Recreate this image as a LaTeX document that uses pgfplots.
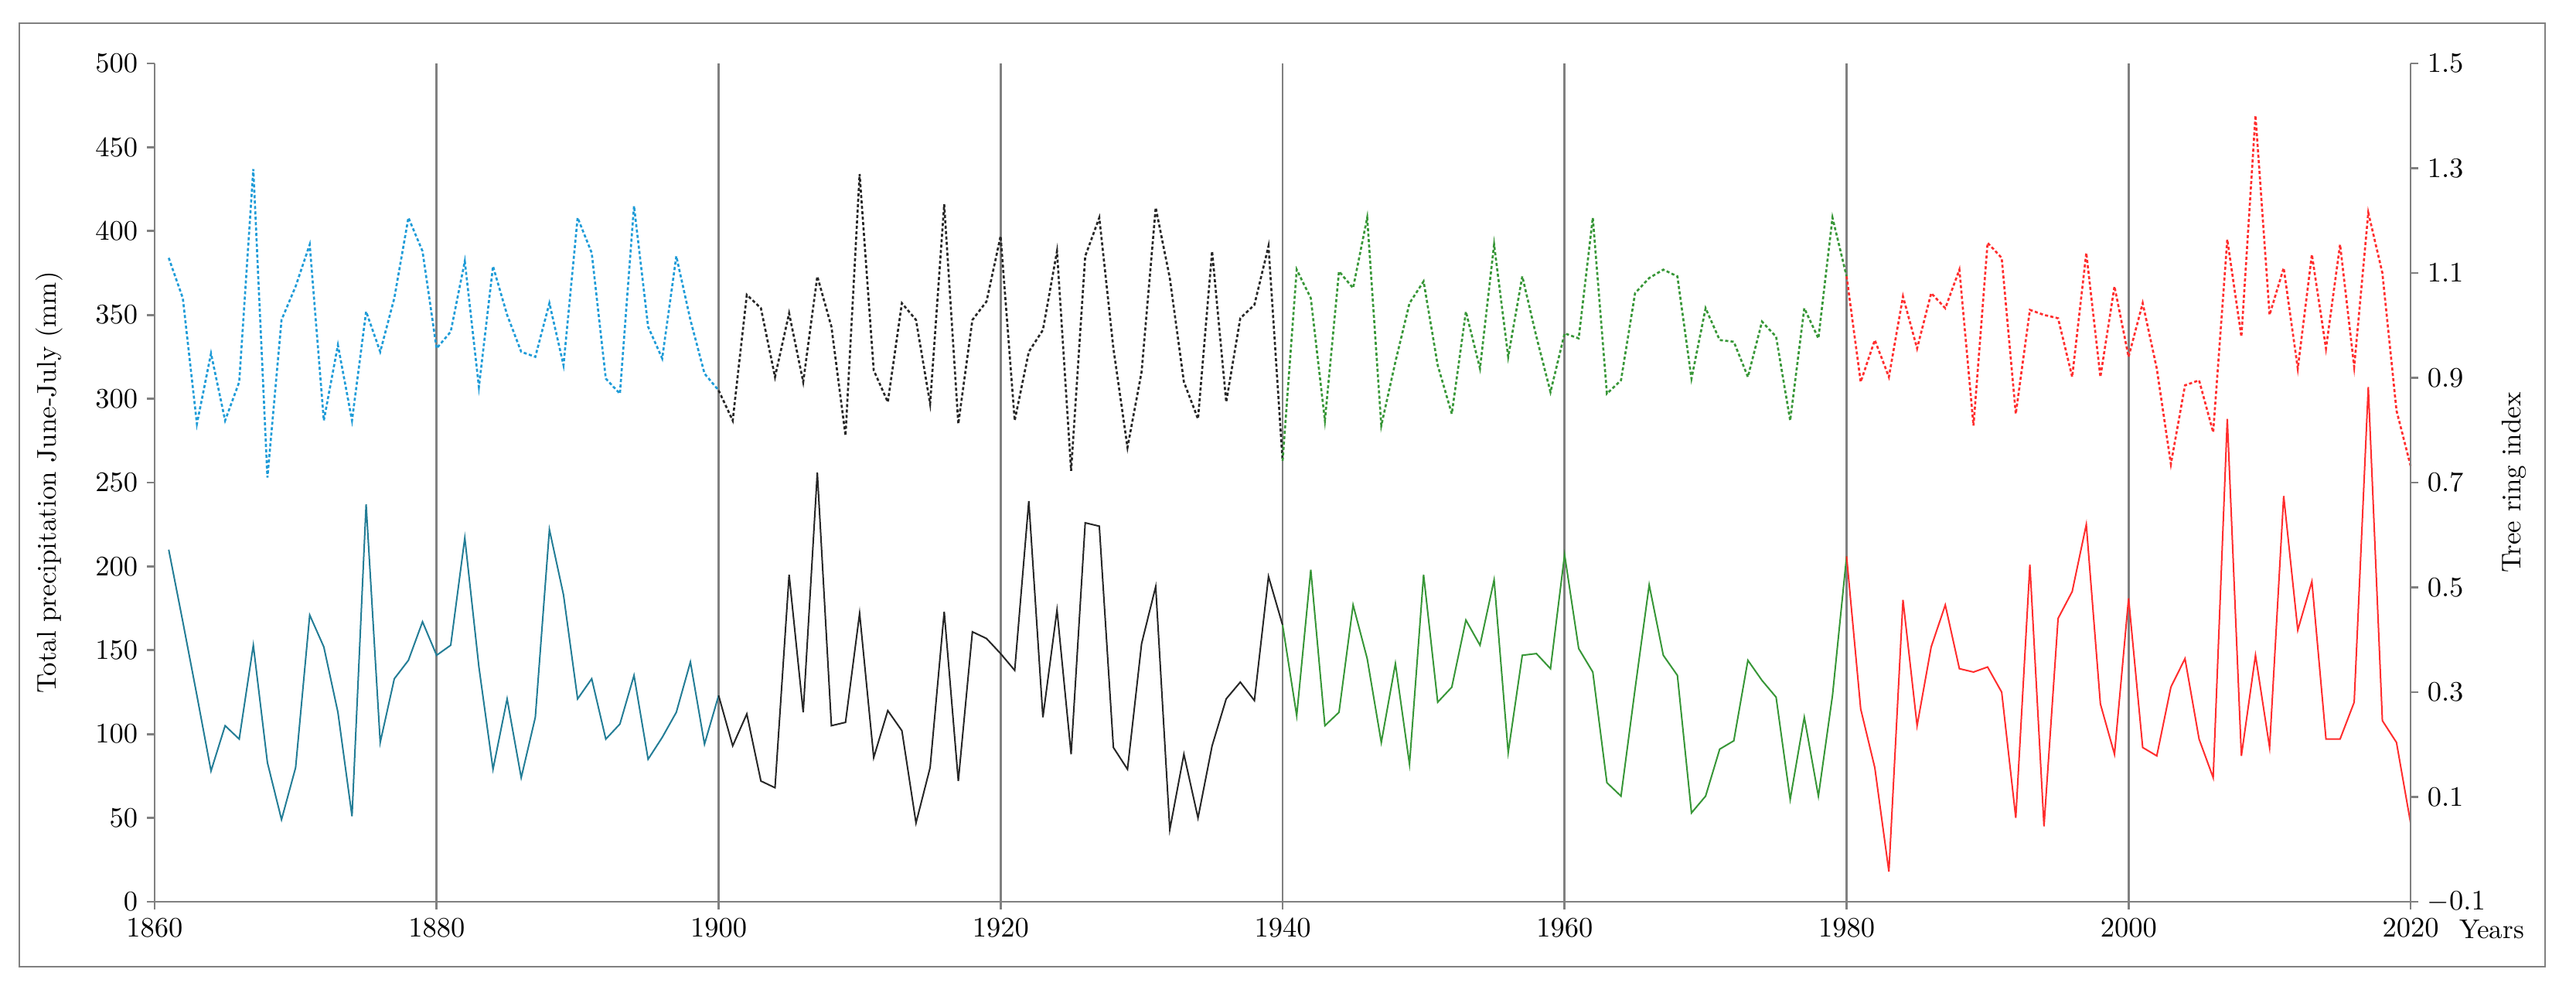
\documentclass[border=0pt]{standalone}
\usepackage{pgfplots}
\usepackage{pgfplotstable}
\pgfplotsset{compat=1.18}
\definecolor{cblue}{RGB}{30,155,215}
\definecolor{cteal}{RGB}{35,125,150}
\definecolor{cgreen}{RGB}{55,150,55}
\definecolor{cred}{RGB}{255,45,45}
\definecolor{axgray}{RGB}{128,128,128}
\pgfplotstableread{
year dot sol
1861 384 210
1862 360 167
1863 285 123
1864 327 78
1865 287 105
1866 310 97
1867 437 153
1868 253 83
1869 347 49
1870 367 80
1871 392 171
1872 287 152
1873 332 113
1874 287 51
1875 352 237
1876 328 95
1877 360 133
1878 408 144
1879 388 167
1880 330 147
1881 340 153
1882 382 217
1883 307 140
1884 379 79
1885 350 121
1886 328 74
1887 325 110
1888 357 222
1889 320 183
1890 408 121
1891 387 133
1892 312 97
1893 303 106
1894 415 135
1895 343 85
1896 324 98
1897 385 113
1898 347 143
1899 315 94
1900 305 123
1901 287 93
1902 362 112
1903 354 72
1904 313 68
1905 351 195
1906 310 113
1907 373 256
1908 343 105
1909 278 107
1910 434 172
1911 317 86
1912 298 114
1913 357 102
1914 347 47
1915 297 80
1916 416 173
1917 285 72
1918 347 161
1919 358 157
1920 397 148
1921 287 138
1922 328 239
1923 341 110
1924 388 174
1925 257 88
1926 385 226
1927 408 224
1928 330 92
1929 271 79
1930 316 154
1931 414 188
1932 372 43
1933 310 88
1934 288 50
1935 388 93
1936 298 121
1937 348 131
1938 356 120
1939 391 194
1940 263 165
1941 377 111
1942 360 198
1943 287 105
1944 376 113
1945 366 177
1946 408 145
1947 284 95
1948 322 142
1949 357 82
1950 370 195
1951 320 119
1952 291 128
1953 352 168
1954 318 153
1955 392 192
1956 325 89
1957 373 147
1958 337 148
1959 304 139
1960 339 207
1961 336 151
1962 408 137
1963 303 71
1964 311 63
1965 363 127
1966 372 189
1967 377 147
1968 373 135
1969 312 53
1970 354 63
1971 335 91
1972 334 96
1973 313 144
1974 346 132
1975 337 122
1976 287 61
1977 354 110
1978 336 63
1979 408 123
1980 373 206
1981 310 115
1982 335 80
1983 313 18
1984 361 180
1985 330 105
1986 363 152
1987 354 177
1988 377 139
1989 284 137
1990 393 140
1991 384 125
1992 291 50
1993 353 201
1994 350 45
1995 348 169
1996 313 185
1997 387 225
1998 313 118
1999 367 88
2000 325 181
2001 357 92
2002 318 87
2003 261 128
2004 308 145
2005 311 97
2006 280 74
2007 395 288
2008 337 87
2009 469 147
2010 350 92
2011 378 242
2012 318 162
2013 386 191
2014 330 97
2015 392 97
2016 319 119
2017 411 307
2018 375 108
2019 293 95
2020 260 47
}\data
\begin{document}
\begin{tikzpicture}
\pgfplotsset{
  every axis/.append style={
    scale only axis, width=875.4pt, height=325.2pt,
    xmin=1860, xmax=2020,
    tick label style={font=\fontsize{10.5}{12}\selectfont, black},
    label style={font=\fontsize{10.5}{12}\selectfont},
    tick align=outside, major tick length=3pt,
    tick style={axgray, line width=0.8pt},
    axis line style={axgray, line width=0.8pt},
  }
}
\begin{axis}[
  name=ax,
  ymin=0, ymax=500,
  xtick={1860,1880,...,2020}, ytick={0,50,...,500},
  xticklabel style={/pgf/number format/1000 sep={}},
  axis x line*=bottom, axis y line*=left,
  xmajorgrids, major grid style={axgray, line width=0.8pt},
  ylabel={Total precipitation June-July (mm)},
  ylabel style={at={(axis description cs:-0.0468,0.5)}, anchor=center},
  clip=false,
]
\addplot[cblue, line width=0.8pt, dash pattern=on 1.2pt off 0.9pt, restrict x to domain=1860:1900] table[x=year,y=dot] {\data};
\addplot[black!85, line width=0.8pt, dash pattern=on 1.2pt off 0.9pt, restrict x to domain=1900:1940] table[x=year,y=dot] {\data};
\addplot[cgreen, line width=0.8pt, dash pattern=on 1.2pt off 0.9pt, restrict x to domain=1940:1980] table[x=year,y=dot] {\data};
\addplot[cred, line width=0.8pt, dash pattern=on 1.2pt off 0.9pt, restrict x to domain=1980:2020] table[x=year,y=dot] {\data};
\addplot[cteal, line width=0.6pt, restrict x to domain=1860:1900] table[x=year,y=sol] {\data};
\addplot[black!85, line width=0.6pt, restrict x to domain=1900:1940] table[x=year,y=sol] {\data};
\addplot[cgreen, line width=0.6pt, restrict x to domain=1940:1980] table[x=year,y=sol] {\data};
\addplot[cred, line width=0.6pt, restrict x to domain=1980:2020] table[x=year,y=sol] {\data};
\node[anchor=north, font=\fontsize{10.5}{12}\selectfont, inner sep=0pt] at ([xshift=31.5pt,yshift=-7pt]rel axis cs:1,0) {Years};
\draw[axgray, line width=0.8pt] ([xshift=-52.5pt,yshift=-25.2pt]rel axis cs:0,0) rectangle ([xshift=52.2pt,yshift=15.6pt]rel axis cs:1,1);
\path ([xshift=-60pt,yshift=-35.1pt]rel axis cs:0,0) rectangle ([xshift=64.2pt,yshift=24.6pt]rel axis cs:1,1);
\end{axis}
\begin{axis}[
  ymin=-0.1, ymax=1.5,
  ytick={-0.1,0.1,0.3,0.5,0.7,0.9,1.1,1.3,1.5},
  yticklabel style={/pgf/number format/.cd, fixed, fixed zerofill, precision=1},
  axis y line*=right, axis x line=none,
  ylabel={Tree ring index},
  ylabel style={at={(axis description cs:1.046,0.5)}, anchor=center},
]
\addplot[draw=none] coordinates {(1860,0.5)};
\end{axis}
\end{tikzpicture}
\end{document}
